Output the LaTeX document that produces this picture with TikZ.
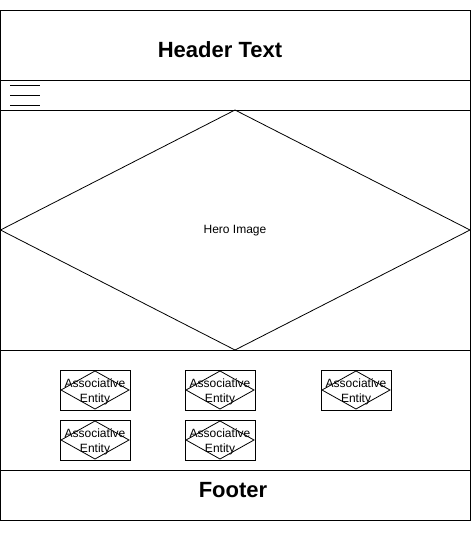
\documentclass[tikz,border=0pt]{standalone}
\usepackage{fontspec}
\setmainfont{Liberation Sans}
\usetikzlibrary{positioning}

\begin{document}
\begin{tikzpicture}[x=1pt,y=-1pt,line width=0.8pt,
    node font=\fontsize{12}{15}\selectfont]
        \useasboundingbox (0,0) rectangle (471,540);
        % page frame and bands
        \draw (0.5,10) rectangle (470,520);
        \draw (0.5,80) -- (470,80);
        \draw (0.5,110) -- (470,110);
        \draw (0.5,350) -- (470,350);
        \draw (0.5,470) -- (470,470);
        \node[font=\fontsize{22}{26}\selectfont\bfseries] (header) at (220,50) {Header Text};
        \node[font=\fontsize{22}{26}\selectfont\bfseries] (footer) at (233,490.5) {Footer};
        % menu icon
        \foreach \y in {85,95,105}
          \draw (10,\y) -- (40,\y);
        % hero
        \draw (235,110) -- (470,230) -- (235,350) -- (0.5,230) -- cycle;
        \node (hero) at (235,230.5) {Hero Image};
        % entities
        \foreach \x/\y [count=\i] in {95/390,220/390,356/390,95/440,220/440} {
          \draw (\x-35,\y-20) rectangle (\x+35,\y+20);
          \draw (\x,\y-19) -- (\x+34,\y) -- (\x,\y+19) -- (\x-34,\y) -- cycle;
          \node[align=center, inner sep=0] (ent\i) at (\x,\y+1.5) {Associative\\Entity};
        }
\end{tikzpicture}
\end{document}
